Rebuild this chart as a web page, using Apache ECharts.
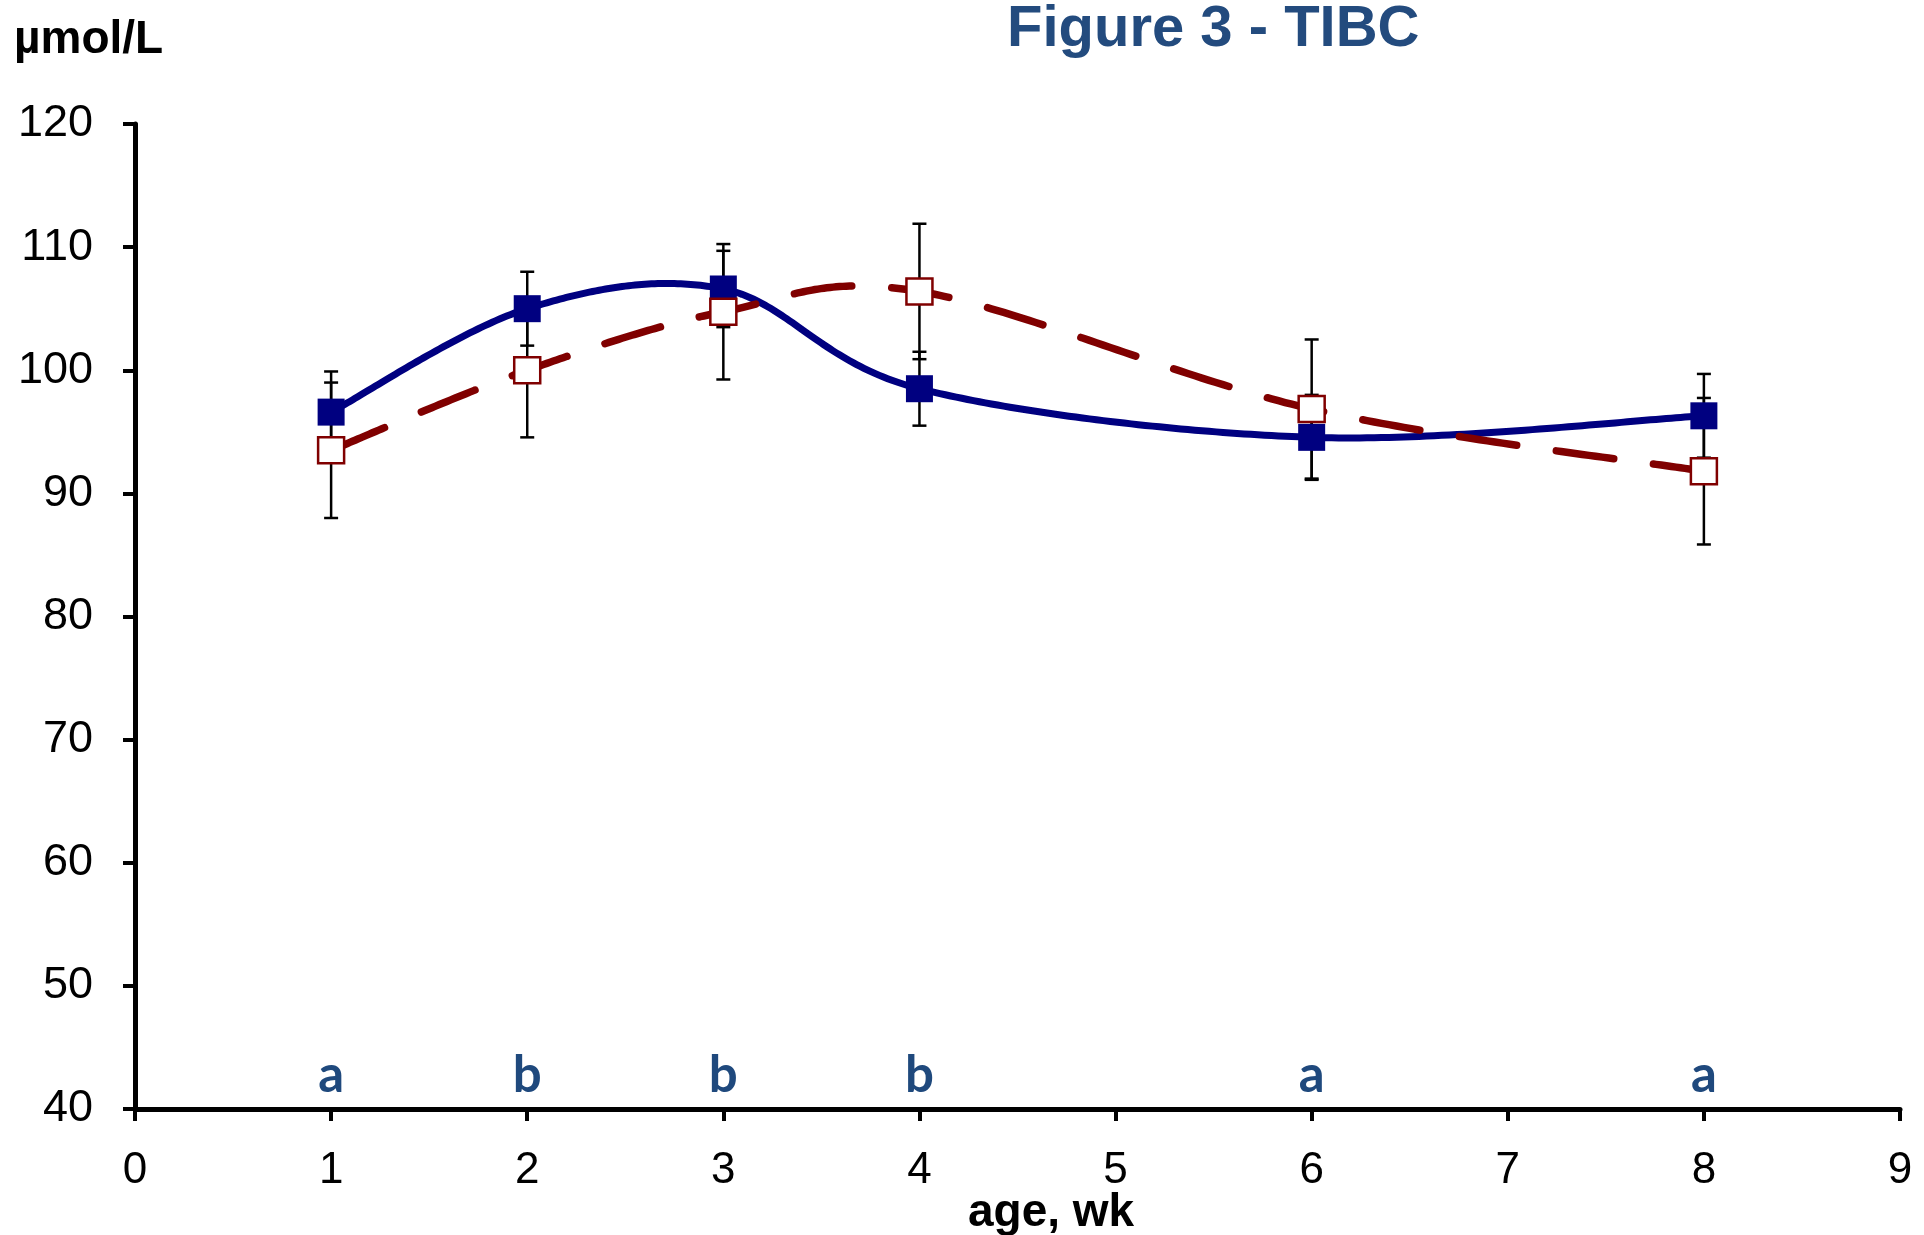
<!DOCTYPE html>
<html>
<head>
<meta charset="utf-8">
<script src="https://cdn.jsdelivr.net/npm/echarts@6/dist/echarts.min.js"></script>
<style>
html,body{margin:0;padding:0;background:#fff;}
#chart{width:1924px;height:1235px;}
</style>
</head>
<body>
<div id="chart"></div>
<script>
// ---- data ----
const weeks = [1, 2, 3, 4, 6, 8];
const seriesA = [96.6, 105.0, 106.6, 98.5, 94.55, 96.3];   // filled navy squares
const seriesASE = [3.3, 3.0, 3.1, 3.0, 3.45, 3.4];
const seriesB = [93.5, 100.0, 104.75, 106.4, 96.85, 91.8]; // open red squares
const seriesBSE = [5.5, 5.45, 5.5, 5.5, 5.65, 5.95];
const sigLetters = ['a', 'b', 'b', 'b', 'a', 'a'];
const letterLevel = 42.7;
const titleText = 'Figure 3 - TIBC';
const yUnit = '\u00b5mol/L';
const xName = 'age, wk';

const pts = (vals) => weeks.map((w, i) => [w, vals[i]]);
const bars = (vals, se) => weeks.map((w, i) => [w, vals[i] - se[i], vals[i] + se[i]]);

function errRender(params, api) {
  const x = api.value(0), lo = api.value(1), hi = api.value(2);
  const a = api.coord([x, hi]), b = api.coord([x, lo]);
  const w = 7;
  const st = {stroke: '#000', lineWidth: 2.5};
  return {type: 'group', children: [
    {type: 'line', shape: {x1: a[0], y1: a[1], x2: b[0], y2: b[1]}, style: st},
    {type: 'line', shape: {x1: a[0] - w, y1: a[1], x2: a[0] + w, y2: a[1]}, style: st},
    {type: 'line', shape: {x1: b[0] - w, y1: b[1], x2: b[0] + w, y2: b[1]}, style: st}
  ]};
}

// spreadsheet-style smoothed line (Catmull-Rom bezier through the points)
function smoothRender(vals, style) {
  return function (params, api) {
    if (params.dataIndex !== 0) return null;
    const P = weeks.map((w, i) => api.coord([w, vals[i]]));
    const n = P.length;
    const out = [];
    for (let i = 0; i < n - 1; i++) {
      const p0 = P[Math.max(i - 1, 0)], p1 = P[i], p2 = P[i + 1], p3 = P[Math.min(i + 2, n - 1)];
      const c1 = [p1[0] + (p2[0] - p0[0]) / 6, p1[1] + (p2[1] - p0[1]) / 6];
      const c2 = [p2[0] - (p3[0] - p1[0]) / 6, p2[1] - (p3[1] - p1[1]) / 6];
      const steps = 60;
      for (let s = (i === 0 ? 0 : 1); s <= steps; s++) {
        const t = s / steps, u = 1 - t;
        out.push([
          u*u*u*p1[0] + 3*u*u*t*c1[0] + 3*u*t*t*c2[0] + t*t*t*p2[0],
          u*u*u*p1[1] + 3*u*u*t*c1[1] + 3*u*t*t*c2[1] + t*t*t*p2[1]
        ]);
      }
    }
    return {type: 'polyline', shape: {points: out}, style: Object.assign({fill: 'none'}, style)};
  };
}

const chart = echarts.init(document.getElementById('chart'));
const font = '"Liberation Sans", Arial, sans-serif';
chart.setOption({
  animation: false,
  backgroundColor: '#fff',
  textStyle: {fontFamily: font},
  title: {
    text: titleText, left: 1002, top: -4,
    textStyle: {fontFamily: font, fontSize: 58, fontWeight: 'bold', color: '#234B7E'}
  },
  graphic: [
    {type: 'text', left: 14, top: 17, style: {text: yUnit, font: 'bold 46px "Liberation Sans", Arial', fill: '#000'}},
    {type: 'text', left: 968, top: 1190, style: {text: xName, font: 'bold 46px "Liberation Sans", Arial', fill: '#000'}}
  ],
  grid: {left: 135, right: 24, top: 124, bottom: 126, containLabel: false},
  xAxis: {
    type: 'value', min: 0, max: 9, interval: 1,
    axisLine: {show: true, lineStyle: {color: '#000', width: 5}},
    axisTick: {show: true, inside: false, length: 12, lineStyle: {color: '#000', width: 4}},
    axisLabel: {fontSize: 44, color: '#000', margin: 40, fontFamily: font},
    splitLine: {show: false}
  },
  yAxis: {
    type: 'value', min: 40, max: 120, interval: 10,
    axisLine: {show: true, lineStyle: {color: '#000', width: 5}},
    axisTick: {show: true, inside: false, length: 12, lineStyle: {color: '#000', width: 4}},
    axisLabel: {fontSize: 45, color: '#000', margin: 42, fontFamily: font},
    splitLine: {show: false}
  },
  series: [
    {type: 'custom', renderItem: errRender, data: bars(seriesA, seriesASE), z: 1, silent: true},
    {type: 'custom', renderItem: errRender, data: bars(seriesB, seriesBSE), z: 1, silent: true},
    {type: 'custom', renderItem: smoothRender(seriesA, {stroke: '#000080', lineWidth: 7}),
     data: pts(seriesA), z: 2, silent: true},
    {type: 'scatter', data: pts(seriesA), z: 3, symbol: 'rect', symbolSize: 27,
     itemStyle: {color: '#000080', opacity: 1}},
    {type: 'custom', renderItem: smoothRender(seriesB, {stroke: '#800000', lineWidth: 7.5, lineDash: [58, 40], lineCap: 'round'}),
     data: pts(seriesB), z: 4, silent: true},
    {type: 'scatter', data: pts(seriesB), z: 5, symbol: 'rect', symbolSize: 26,
     itemStyle: {color: '#fff', borderColor: '#800000', borderWidth: 2.5, opacity: 1}},
    {
      type: 'scatter', z: 6, symbolSize: 0, silent: true,
      itemStyle: {opacity: 1},
      data: weeks.map((w, i) => [w, letterLevel, sigLetters[i]]),
      label: {
        show: true, position: 'inside',
        formatter: (p) => p.data[2],
        fontFamily: 'Lato, "Open Sans", sans-serif', fontWeight: 'bold', fontSize: 51, color: '#1F497D'
      }
    }
  ]
});
</script>
</body>
</html>
